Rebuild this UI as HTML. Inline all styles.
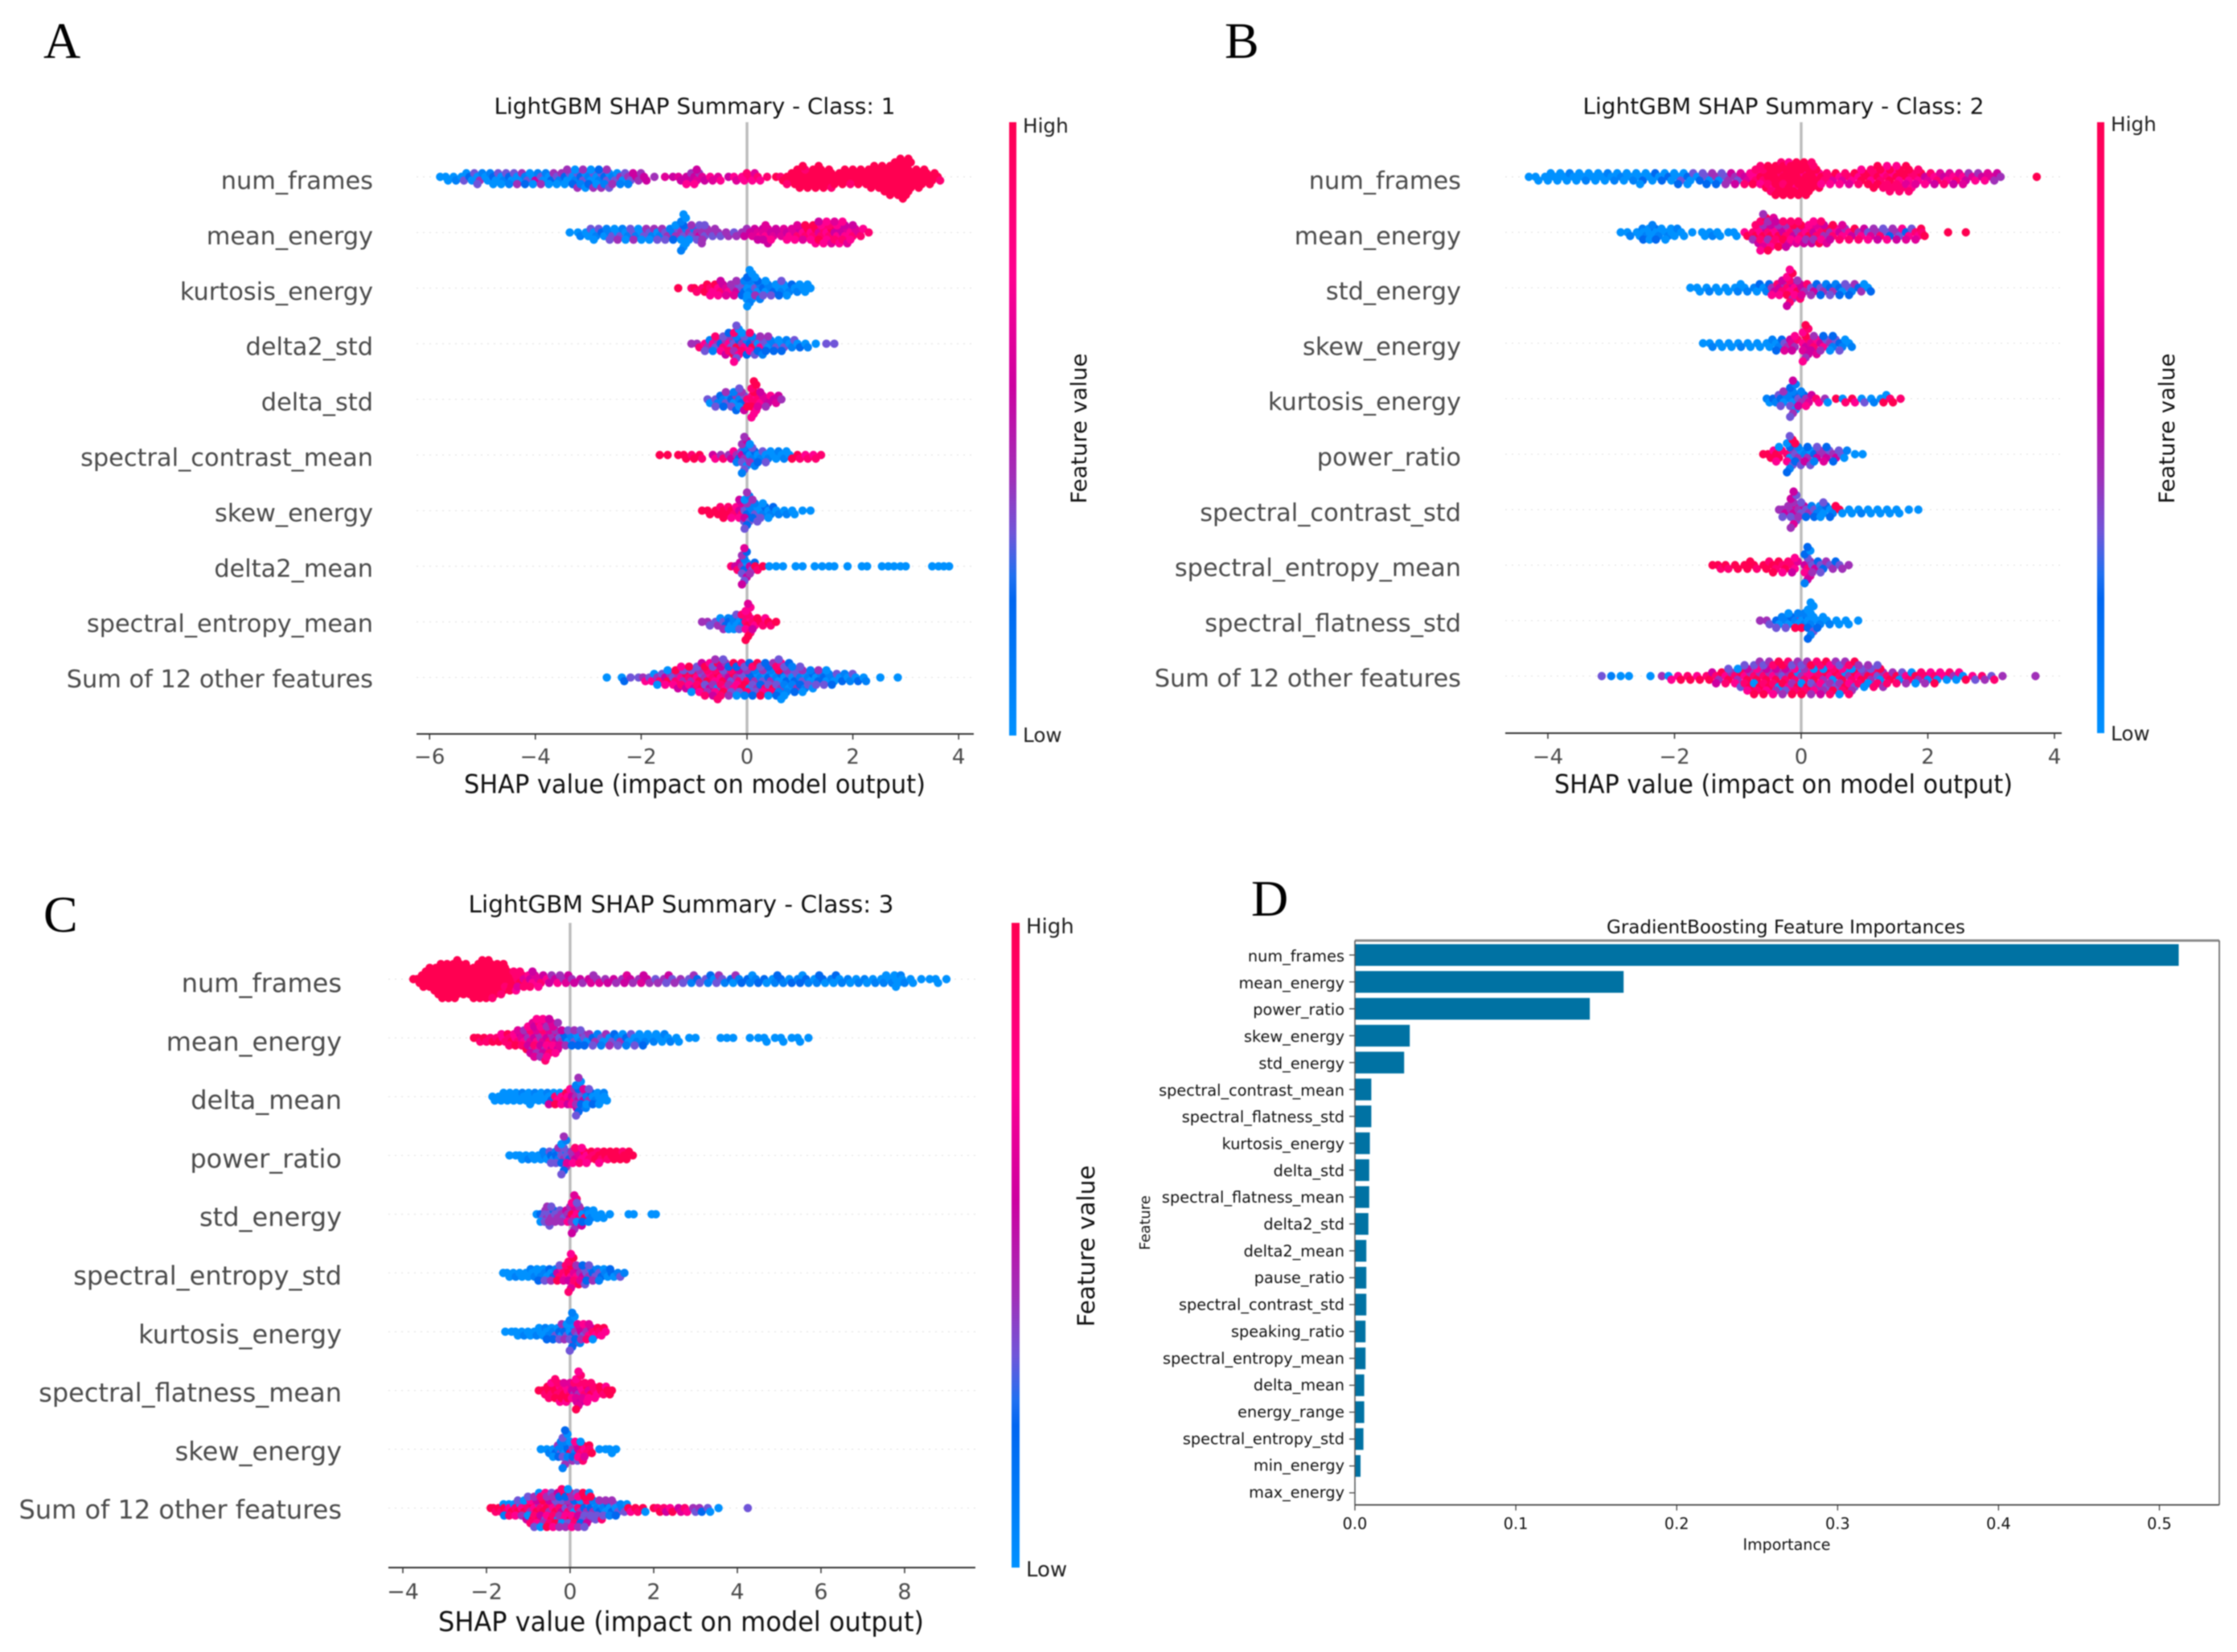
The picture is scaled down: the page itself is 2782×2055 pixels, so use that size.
<!DOCTYPE html>
<html lang="en">
<head>
<meta charset="utf-8">
<title>SHAP summaries and feature importances</title>
<style>
html,body{margin:0;padding:0;background:#fff;width:2782px;height:2055px;overflow:hidden}
#figure{display:block;filter:blur(0.8px)}
text{font-family:"DejaVu Sans","Liberation Sans",sans-serif}
.panel-letter{font-family:"Liberation Serif",serif;font-size:64px;fill:#000}
</style>
</head>
<body>
<svg id="figure" xmlns="http://www.w3.org/2000/svg" width="2782" height="2055" viewBox="0 0 2782 2055">
<defs>
<linearGradient id="shapGradient" x1="0" y1="0" x2="0" y2="1">
<stop offset="0" stop-color="#ff0051"/><stop offset="0.25" stop-color="#ff0090"/><stop offset="0.43" stop-color="#cc00a0"/><stop offset="0.58" stop-color="#a030b8"/><stop offset="0.67" stop-color="#7055d8"/><stop offset="0.74" stop-color="#2070f0"/><stop offset="0.78" stop-color="#0066f0"/><stop offset="1" stop-color="#0091ff"/>
</linearGradient>
</defs>
<rect width="2782" height="2055" fill="#fff"/>
<text class="panel-letter" x="54" y="72">A</text>
<text class="panel-letter" x="1523" y="72">B</text>
<text class="panel-letter" x="54" y="1159">C</text>
<text class="panel-letter" x="1556" y="1139">D</text>
<g id="panelA"></g>
<g id="panelB"></g>
<g id="panelC"></g>
<g id="panelD"></g>
</svg>
<script>
// Feature values are one digit per dot: 0 = low ... 9 = high.
const dotPalette = ["#0091ff","#0080f8","#0068f0","#7055d8","#a030b8","#cc00a0","#e00098","#ff0090","#ff0070","#ff0051"];

// ---------- Panel A ----------
const panelA_features = ["num_frames","mean_energy","kurtosis_energy","delta2_std","delta_std","spectral_contrast_mean","skew_energy","delta2_mean","spectral_entropy_mean","Sum of 12 other features"];
const panelA_ticks = [-6,-4,-2,0,2,4];
const a_num_frames_x = [-5.8,-5.65,-5.5,-5.35,-5.2,-5.05,-4.9,-4.75,-4.6,-4.45,-4.3,-4.15,-4,-3.85,-3.7,-3.55,-3.4,-3.25,-3.1,-2.95,-2.8,-2.65,-2.5,-2.35,-2.2,-2.05,-1.9,-1.75,-1.55,-1.4,-1.25,-1.1,-0.95,-0.8,-0.65,-0.5,-0.35,-0.2,-0.05,0.1,0.25,0.38,0.55,0.68,0.8,0.95,1.1,1.25,1.4,1.55,1.7,1.85,2,2.15,2.3,2.45,2.6,2.75,2.9,3.05,3.2,3.35,3.5,3.65];
const a_num_frames_f = ["0","00","01","030","203","0413","001","2030","0130","2031","0044","1302","0510","3014","0240","3140","20304","013204","230140","103204","013024","230143","1304","4031","4351","544","55","4","6","5","65","5547","56475","65","76","67","5","76","778","876","87","8","9","89","9998","999999","9999899","999999","9999999","999998","9999","99999","99989","99999","999999","9999999","99999999","9999999999","999999999999","99999999999","999999","99999","9999","98"];
const a_mean_energy_x = [-3.35,-3.15,-3,-2.85,-2.7,-2.55,-2.4,-2.25,-2.1,-1.95,-1.8,-1.65,-1.5,-1.35,-1.2,-1.05,-0.9,-0.8,-0.65,-0.5,-0.35,-0.2,-0.05,0.1,0.25,0.35,0.5,0.65,0.8,0.95,1.1,1.25,1.4,1.55,1.7,1.85,2,2.15,2.3];
const a_mean_energy_f = ["0","01","003","0130","201","1303","0314","0130","3104","0340","3140","0143","3413","14320","43102010010","43104","454334","43443","434","43","44","34","454","565","6755","676565","5657","566","5767","68576","78969","789797","6889775","7897867","5758776","5768567","78675","687","8"];
const a_kurtosis_energy_x = [-1.3,-1.05,-0.95,-0.8,-0.65,-0.5,-0.35,-0.2,-0.05,0.05,0.2,0.35,0.5,0.65,0.8,0.95,1.1,1.2];
const a_kurtosis_energy_f = ["9","8","98","899","8797","78575","6746","45364","324210","01001021000","3014210","20130","1203","01023","0120","010","000","0"];
const a_delta2_std_x = [-1.05,-0.9,-0.75,-0.6,-0.45,-0.3,-0.2,-0.05,0.1,0.25,0.4,0.55,0.7,0.85,1,1.15,1.3,1.5,1.65];
const a_delta2_std_f = ["4","48","7413","73418","284735","7318492","39241783073","4718320","2947138","073241","30124","1302","0312","013","02","01","0","3","3"];
const a_delta_std_x = [-0.7,-0.55,-0.4,-0.25,-0.1,0.05,0.13,0.25,0.4,0.55,0.65];
const a_delta_std_f = ["30","3123","13024","204312","1230453","8779","88799787979","87665","6574","565","4"];
const a_contrast_mean_x = [-1.65,-1.5,-1.3,-1.15,-1,-0.85,-0.6,-0.45,-0.3,-0.15,-0.05,0.1,0.25,0.4,0.55,0.7,0.85,1,1.15,1.3,1.4];
const a_contrast_mean_f = ["9","9","9","99","89","98","57","48","457","4231","54231043514","0124310","0132","0103","001","010","09","98","78","78","8"];
const a_skew_energy_x = [-0.85,-0.7,-0.55,-0.4,-0.25,-0.1,0,0.15,0.3,0.45,0.6,0.75,0.9,1.05,1.2];
const a_skew_energy_f = ["9","99","998","9989","9877","5847635","32154302134","1302134","01230","0120","01","01","00","0","0"];
const a_delta2_mean_x = [-0.3,-0.18,-0.05,0.1,0.2,0.3,0.42,0.55,0.68,0.92,1.05,1.28,1.42,1.55,1.65,1.9,2.17,2.27,2.55,2.67,2.78,2.9,3,3.5,3.62,3.72,3.82];
const a_delta2_mean_f = ["8","585","42031543256","5324","98","9","0","0","0","0","0","0","0","0","0","0","0","0","0","0","0","0","0","0","0","0","0"];
const a_entropy_mean_x = [-0.85,-0.7,-0.55,-0.4,-0.3,-0.2,-0.1,0.02,0.15,0.3,0.45,0.55];
const a_entropy_mean_f = ["4","43","340","3214","2010","10203","01238","89778879796","8795","987","98","9"];
const a_sum_other_x = [-2.65,-2.32,-2.2,-2.05,-1.92,-1.8,-1.65,-1.5,-1.35,-1.2,-1.05,-0.9,-0.75,-0.6,-0.45,-0.3,-0.15,0,0.15,0.3,0.45,0.6,0.75,0.9,1.05,1.2,1.35,1.5,1.65,1.8,1.95,2.1,2.25,2.52,2.85];
const a_sum_other_f = ["0","02","3","3","47","370","4830","59470","384795","7498357","84973590","793849375","4973859478","879480379548","79483759483","5394872394","4837592380","3829403821","2403148392","1302483729","2403192840","102394817230","0231403120","02313412","13024130","102310","02134","20130","1032","021","013","02","01","0","0"];

// ---------- Panel B ----------
const panelB_features = ["num_frames","mean_energy","std_energy","skew_energy","kurtosis_energy","power_ratio","spectral_contrast_std","spectral_entropy_mean","spectral_flatness_std","Sum of 12 other features"];
const panelB_ticks = [-4,-2,0,2,4];
const b_num_frames_x = [-4.3,-4.15,-4,-3.85,-3.7,-3.55,-3.4,-3.25,-3.1,-2.95,-2.8,-2.65,-2.5,-2.35,-2.2,-2.05,-1.9,-1.75,-1.6,-1.45,-1.3,-1.15,-1,-0.85,-0.72,-0.6,-0.48,-0.36,-0.24,-0.12,0,0.12,0.24,0.36,0.5,0.65,0.8,0.95,1.1,1.25,1.4,1.55,1.7,1.85,2,2.15,2.3,2.45,2.6,2.75,2.9,3.05,3.15,3.72];
const b_num_frames_f = ["0","00","000","000","001","000","010","000","001","010","100","010","0200","002","020","200","0302","2030","023","3042","4032","3454","4365","5678","78798","9897898","99989798","9989999989","9998999979","9999979999","9979999999","9999999989","9979998","9887","8697","7687","8796","79987","978989","9879989","89789878","97989878","97869798","87968","5687","7865","5768","7865","7546","674","576","645","4","9"];
const b_mean_energy_x = [-2.85,-2.7,-2.55,-2.45,-2.35,-2.25,-2.1,-2,-1.85,-1.72,-1.52,-1.4,-1.28,-1.15,-1.02,-0.85,-0.72,-0.6,-0.48,-0.36,-0.24,-0.12,0,0.12,0.24,0.36,0.5,0.65,0.8,0.95,1.1,1.25,1.4,1.55,1.7,1.85,1.95,2.32,2.6];
const b_mean_energy_f = ["0","01","001","0102","00201","0102","0100","001","00","0","00","01","00","0","00","79","897485","79584786974","8974584769","79584759","58794685","8547968","4867958","798475","5874697","8497568","48759","57486","7598","4758","3647","4835","3247","4375","2736","8796","89","9","9"];
const b_std_energy_x = [-1.75,-1.6,-1.45,-1.3,-1.15,-1,-0.85,-0.7,-0.55,-0.42,-0.3,-0.18,-0.06,0.05,0.2,0.35,0.5,0.65,0.8,0.95,1.1];
const b_std_energy_f = ["0","00","01","00","00","010","01","102","012","4587","58475","87598478957","795748","5486","3524","3412","2413","2032","3142","240","02"];
const b_skew_energy_x = [-1.55,-1.4,-1.25,-1.1,-0.95,-0.8,-0.65,-0.5,-0.35,-0.22,-0.1,0.07,0.2,0.35,0.5,0.65,0.8];
const b_skew_energy_f = ["0","01","00","00","01","00","00","001","0122","3456","64857","75869574879","687546","57342","41302","2103","01"];
const b_kurtosis_energy_x = [-0.5,-0.4,-0.28,-0.13,0,0.12,0.28,0.42,0.55,0.7,0.85,1,1.15,1.3,1.45,1.57];
const b_kurtosis_energy_f = ["10","213","20134","10231024135","34251","4657","87","40","9","08","97","03","01","090","89","8"];
const b_power_ratio_x = [-0.6,-0.48,-0.35,-0.18,-0.05,0.1,0.25,0.4,0.55,0.68,0.85,0.97];
const b_power_ratio_f = ["9","997","99870","80472301923","3402139","140523","25413","45362","4532","301","0","0"];
const b_contrast_std_x = [-0.35,-0.25,-0.12,0,0.12,0.25,0.35,0.5,0.65,0.8,0.95,1.1,1.25,1.4,1.55,1.7,1.85];
const b_contrast_std_f = ["4","4543","45634356345","43543","3412","3102","10203","0192","90","00","01","00","00","00","00","0","0"];
const b_entropy_mean_x = [-1.4,-1.27,-1.15,-1,-0.85,-0.7,-0.55,-0.4,-0.25,-0.1,0.1,0.22,0.35,0.5,0.65,0.75];
const b_entropy_mean_f = ["9","98","98","99","999","98","998","9899","8987","87657","58473625012","3524","3243","342","34","4"];
const b_flatness_std_x = [-0.65,-0.5,-0.35,-0.2,-0.05,0.05,0.15,0.3,0.45,0.6,0.75,0.9];
const b_flatness_std_f = ["4","43","2013","10230","10491","01291","01020301020","0102","01","00","00","0"];
const b_sum_other_x = [-3.15,-3,-2.85,-2.72,-2.38,-2.2,-2.05,-1.9,-1.75,-1.6,-1.45,-1.3,-1.15,-1,-0.85,-0.7,-0.55,-0.4,-0.25,-0.1,0.05,0.2,0.35,0.5,0.65,0.8,0.95,1.1,1.25,1.4,1.55,1.7,1.85,2,2.15,2.3,2.45,2.6,2.75,2.9,3.05,3.18,3.7];
const b_sum_other_f = ["3","1","0","0","0","4","07","79","89","79","895","8495","79483","849703","79485937","8940793849","8948593749","7948508497","3849579384","9804793849","4870493849","7983049784","8497038495","7094837948","8904793840","4897038498","7948304","9480384","3048943","8948","9038","7804","9480","8074","8079","708","407","09","73","84","38","4","4"];

// ---------- Panel C ----------
const panelC_features = ["num_frames","mean_energy","delta_mean","power_ratio","std_energy","spectral_entropy_std","kurtosis_energy","spectral_flatness_mean","skew_energy","Sum of 12 other features"];
const panelC_ticks = [-4,-2,0,2,4,6,8];
const c_num_frames_x = [-3.75,-3.6,-3.45,-3.3,-3.15,-3,-2.85,-2.7,-2.55,-2.4,-2.25,-2.1,-1.95,-1.8,-1.65,-1.5,-1.35,-1.2,-1.05,-0.9,-0.7,-0.5,-0.3,-0.1,0.1,0.3,0.5,0.7,0.9,1.1,1.3,1.5,1.7,1.9,2.1,2.3,2.5,2.7,2.9,3.1,3.3,3.5,3.7,3.9,4.1,4.3,4.5,4.7,4.9,5.1,5.3,5.5,5.7,5.9,6.1,6.3,6.5,6.7,6.9,7.1,7.3,7.5,7.7,7.85,8,8.2,8.4,8.6,8.8,9];
const c_num_frames_f = ["9","999","99999","9999999","999999999","9999999999","9999999999","99999999999","999999999","99999999","9999999999","99999999999","99999999999","9999999998","999999989","9998999","998987","89868","6878","57685","6857","754","574","465","45","54","564","46","45","54","456","54","465","54","34","435","34","43","314","23","312","034","31","204","12","210","12","20","012","21","02","120","21","012","20","102","01","10","01","10","01","010","010","0010","01","00","0","0","00","0"];
const c_mean_energy_x = [-2.3,-2.15,-2,-1.85,-1.7,-1.55,-1.4,-1.25,-1.1,-0.95,-0.8,-0.65,-0.5,-0.35,-0.2,-0.05,0.1,0.25,0.4,0.6,0.8,1,1.2,1.4,1.6,1.8,2,2.2,2.4,2.6,2.85,3,3.6,3.75,3.9,4.3,4.5,4.7,4.9,5.1,5.3,5.5,5.7];
const c_mean_energy_f = ["9","98","98","89","897","789","8978","78596","675849","467584756","57486754867","467584756478","58476548675","456745674","34265","20143","13024","01423","3042","2413","3041","0324","1403","2031","0103","0102","010","001","01","00","0","0","0","0","0","0","0","00","0","00","0","00","0"];
const c_delta_mean_x = [-1.8,-1.65,-1.5,-1.35,-1.2,-1.05,-0.9,-0.75,-0.6,-0.45,-0.3,-0.15,0,0.1,0.2,0.32,0.45,0.6,0.75,0.88];
const c_delta_mean_f = ["00","000","000","000","001","000","0010","000","001","0205","8709","7897","78657","576745","45342312034","354261","14203","0102","0010","00"];
const c_power_ratio_x = [-1.45,-1.3,-1.15,-1,-0.85,-0.7,-0.55,-0.4,-0.28,-0.15,-0.02,0.12,0.28,0.45,0.6,0.75,0.9,1.05,1.2,1.35,1.5];
const c_power_ratio_f = ["0","0","00","01","00","001","103","2013","21034","34123402134","3246","45678","67987","7897","898","9897","989","999","998","999","9"];
const c_std_energy_x = [-0.8,-0.65,-0.55,-0.45,-0.3,-0.15,0,0.1,0.22,0.35,0.5,0.65,0.8,0.95,1.4,1.52,1.95,2.05];
const c_std_energy_f = ["0","2340","343343","34243","3434","4354","45374","97846574856","7890453","0912","0101","00","00","0","0","0","0","0"];
const c_entropy_std_x = [-1.6,-1.45,-1.3,-1.15,-1,-0.85,-0.7,-0.55,-0.4,-0.25,-0.1,0.02,0.15,0.3,0.45,0.6,0.75,0.9,1.05,1.2,1.3];
const c_entropy_std_f = ["0","00","01","00","001","010","0102","1023","0214","58793","87968","97859786987","675849","453623","34123","2314","3201","102","20","13","1"];
const c_kurtosis_energy_x = [-1.55,-1.4,-1.25,-1.1,-0.95,-0.8,-0.65,-0.5,-0.35,-0.2,-0.08,0.05,0.18,0.32,0.45,0.6,0.75,0.85];
const c_kurtosis_energy_f = ["0","0","00","01","00","010","001","0102","1302","20134","23140","02130412031","435261","53647","47586","8790","879","7"];
const c_flatness_mean_x = [-0.75,-0.6,-0.45,-0.3,-0.15,0,0.1,0.2,0.35,0.5,0.65,0.8,0.95,1];
const c_flatness_mean_f = ["9","989","98987","9879878","897967","78596","546785","54768576897","789687","69878","8797","987","99","9"];
const c_skew_energy_x = [-0.7,-0.5,-0.35,-0.22,-0.12,0,0.12,0.25,0.4,0.52,0.7,0.85,1,1.1];
const c_skew_energy_f = ["0","01","0240","13021","10231034012","293104","415273","589708","7896","89","0","0","00","0"];
const c_sum_other_x = [-1.9,-1.78,-1.65,-1.52,-1.4,-1.25,-1.1,-0.95,-0.8,-0.65,-0.5,-0.35,-0.2,-0.05,0.1,0.25,0.4,0.55,0.7,0.85,1,1.15,1.3,1.45,1.62,1.8,2,2.15,2.3,2.45,2.65,2.8,3,3.15,3.35,3.55,4.25];
const c_sum_other_f = ["9","98","980","9801","7908","89073","798405","84907938","7948594703","8975938470","9487594839","7948304957","85943720948","38574923840","4037294837","8495037294","2403849503","2403139","120348","10234","02314","0312","130","97","98","90","9","89","85","79","56","87","43","42","30","0","3"];

// ---------- Panel D ----------
const importanceFeatures = ["num_frames","mean_energy","power_ratio","skew_energy","std_energy","spectral_contrast_mean","spectral_flatness_std","kurtosis_energy","delta_std","spectral_flatness_mean","delta2_std","delta2_mean","pause_ratio","spectral_contrast_std","speaking_ratio","spectral_entropy_mean","delta_mean","energy_range","spectral_entropy_std","min_energy","max_energy"];
const importanceValues = [0.512,0.167,0.146,0.0341,0.0306,0.0102,0.0102,0.0093,0.0089,0.0089,0.0084,0.0071,0.0071,0.0071,0.0066,0.0066,0.0058,0.0058,0.0053,0.0035,0.0003];
const importanceTicks = [0,0.1,0.2,0.3,0.4,0.5];

const panelA_rows = [[a_num_frames_x,a_num_frames_f],[a_mean_energy_x,a_mean_energy_f],[a_kurtosis_energy_x,a_kurtosis_energy_f],[a_delta2_std_x,a_delta2_std_f],[a_delta_std_x,a_delta_std_f],[a_contrast_mean_x,a_contrast_mean_f],[a_skew_energy_x,a_skew_energy_f],[a_delta2_mean_x,a_delta2_mean_f],[a_entropy_mean_x,a_entropy_mean_f],[a_sum_other_x,a_sum_other_f]];
const panelB_rows = [[b_num_frames_x,b_num_frames_f],[b_mean_energy_x,b_mean_energy_f],[b_std_energy_x,b_std_energy_f],[b_skew_energy_x,b_skew_energy_f],[b_kurtosis_energy_x,b_kurtosis_energy_f],[b_power_ratio_x,b_power_ratio_f],[b_contrast_std_x,b_contrast_std_f],[b_entropy_mean_x,b_entropy_mean_f],[b_flatness_std_x,b_flatness_std_f],[b_sum_other_x,b_sum_other_f]];
const panelC_rows = [[c_num_frames_x,c_num_frames_f],[c_mean_energy_x,c_mean_energy_f],[c_delta_mean_x,c_delta_mean_f],[c_power_ratio_x,c_power_ratio_f],[c_std_energy_x,c_std_energy_f],[c_entropy_std_x,c_entropy_std_f],[c_kurtosis_energy_x,c_kurtosis_energy_f],[c_flatness_mean_x,c_flatness_mean_f],[c_skew_energy_x,c_skew_energy_f],[c_sum_other_x,c_sum_other_f]];

const NS = "http://www.w3.org/2000/svg";
function makeEl(parent, tag, name, attrs){
  const el = document.createElementNS(NS, tag);
  
  
  for (const k in attrs) el.setAttribute(k, attrs[k]);
  parent.appendChild(el);
  return el;
}
function addText(parent, str, x, y, size, anchor, fill, name, opts){
  const a = {x:x, y:y, 'font-size':size, 'text-anchor':anchor, fill:fill};
  if (opts && opts.length){ a.textLength = opts.length; a.lengthAdjust = 'spacingAndGlyphs'; }
  if (opts && opts.rotate) a.transform = 'rotate(-90 '+x+' '+y+')';
  const el = makeEl(parent, 'text', name, a);
  el.textContent = str;
  return el;
}
function fmtTick(v){ return String(v).replace('-', '\u2212'); }

function drawSwarmPanel(g, features, rows, ticks, L){
  const xScale = v => L.x0 + v * L.unit;
  const yScale = i => L.rowTop + i * L.rowStep;
  const labelY = i => L.rowTop + L.labelDy + i * L.labelStep;
  // row guide lines and labels
  features.forEach((label, i) => {
    makeEl(g, 'line', 'row-guide-' + label.replace(/ /g,'-'), {x1:L.axisL, x2:L.axisR, y1:yScale(i), y2:yScale(i), stroke:'#dddddd', 'stroke-width':1, 'stroke-dasharray':'2 6'});
    addText(g, label, L.labelR, labelY(i), L.labelSize, 'end', '#4a4a4a', 'feature-label-' + label.replace(/ /g,'-'));
  });
  makeEl(g, 'line', 'zero-line', {x1:xScale(0), x2:xScale(0), y1:L.top, y2:L.axisY, stroke:'#bdbdbd', 'stroke-width':3.5});
  // swarm dots: each bin's dots stack out from the row centre with a small sideways stagger
  rows.forEach((row, i) => {
    const xs = row[0], fs = row[1];
    const rowG = makeEl(g, 'g', 'swarm-row-' + features[i].replace(/ /g,'-'), {});
    xs.forEach((x, b) => {
      const s = fs[b] || '0';
      for (let j = 0; j < s.length; j++){
        const off = j === 0 ? 0 : (j % 2 ? 1 : -1) * Math.ceil(j / 2) * L.stackStep;
        const side = s.length > 1 ? (j % 3 - 1) * L.stagger : 0;
        const dot = document.createElementNS(NS, 'circle');
        
        
        dot.setAttribute('cx', xScale(x) + side);
        dot.setAttribute('cy', yScale(i) + off);
        dot.setAttribute('r', 5.2);
        dot.setAttribute('fill', dotPalette[+s[j]]);
        rowG.appendChild(dot);
      }
    });
  });
  // x axis
  makeEl(g, 'line', 'x-axis-line', {x1:L.axisL, x2:L.axisR, y1:L.axisY, y2:L.axisY, stroke:'#333', 'stroke-width':2});
  ticks.forEach(t => {
    makeEl(g, 'line', 'x-tick', {x1:xScale(t), x2:xScale(t), y1:L.axisY, y2:L.axisY + 7, stroke:'#333', 'stroke-width':1.5});
    addText(g, fmtTick(t), xScale(t), L.tickY, L.tickSize, 'middle', '#4a4a4a', 'x-tick-label');
  });
  addText(g, 'SHAP value (impact on model output)', L.xlabelX, L.xlabelY, L.xlabelSize, 'middle', '#111', 'x-axis-title', {length:L.xlabelLen});
  addText(g, L.title, L.xlabelX, L.titleY, L.titleSize, 'middle', '#111', 'chart-title', {length:L.titleLen});
  // colour bar
  makeEl(g, 'rect', 'colorbar', {x:L.cbX, y:L.top, width:L.cbW, height:L.cbBottom - L.top, fill:'url(#shapGradient)'});
  addText(g, 'High', L.cbLabelX, L.highY, L.cbSize, 'start', '#222', 'colorbar-high-label');
  addText(g, 'Low', L.cbLabelX, L.lowY, L.cbSize, 'start', '#222', 'colorbar-low-label');
  addText(g, 'Feature value', L.fvX, L.fvY, L.fvSize, 'middle', '#111', 'colorbar-title', {rotate:true, length:L.fvLen});
}

drawSwarmPanel(document.getElementById('panelA'), panelA_features, panelA_rows, panelA_ticks, {
  x0:929, unit:65.8, rowTop:220, rowStep:69.2, stackStep:4.5, stagger:3, top:152, axisY:913, axisL:518, axisR:1211,
  labelR:464, labelDy:15, labelStep:68.9, labelSize:30.4, tickY:950, tickSize:26, xlabelX:864, xlabelY:986.5, xlabelSize:32, xlabelLen:574,
  title:'LightGBM SHAP Summary - Class: 1', titleY:141.5, titleSize:27.5, titleLen:499,
  cbX:1255, cbW:9, cbBottom:915, cbLabelX:1272, highY:165, lowY:923, cbSize:24.7, fvX:1351, fvY:533, fvSize:27, fvLen:187
});
drawSwarmPanel(document.getElementById('panelB'), panelB_features, panelB_rows, panelB_ticks, {
  x0:2240, unit:78.75, rowTop:220, rowStep:69, stackStep:4.5, stagger:3.5, top:152, axisY:912, axisL:1872, axisR:2564,
  labelR:1817, labelDy:15, labelStep:68.8, labelSize:30.4, tickY:950, tickSize:26, xlabelX:2218, xlabelY:986.5, xlabelSize:32, xlabelLen:570,
  title:'LightGBM SHAP Summary - Class: 2', titleY:141.5, titleSize:27.5, titleLen:499,
  cbX:2608, cbW:9, cbBottom:912, cbLabelX:2625, highY:163, lowY:921, cbSize:24.7, fvX:2704, fvY:533, fvSize:27, fvLen:187
});
drawSwarmPanel(document.getElementById('panelC'), panelC_features, panelC_rows, panelC_ticks, {
  x0:709, unit:52, rowTop:1218, rowStep:73.1, stackStep:4.7, stagger:3, top:1148, axisY:1950, axisL:483, axisR:1213,
  labelR:425, labelDy:16, labelStep:72.8, labelSize:32, tickY:1989, tickSize:27, xlabelX:847, xlabelY:2029, xlabelSize:33.5, xlabelLen:604,
  title:'LightGBM SHAP Summary - Class: 3', titleY:1135, titleSize:29, titleLen:529,
  cbX:1258, cbW:10, cbBottom:1950, cbLabelX:1276, highY:1161, lowY:1961, cbSize:26, fvX:1361, fvY:1550, fvSize:29, fvLen:201
});

(function drawImportance(){
  const g = document.getElementById('panelD');
  const left = 1685, right = 2760, top = 1170, bottom = 1872;
  const xScale = v => left + v * 2001;
  const yScale = i => 1188 + i * 33.45;
  const labelY = i => 1196 + i * 33.35;
  importanceFeatures.forEach((name, i) => {
    makeEl(g, 'rect', 'bar-' + name, {x:left, y:yScale(i) - 13.5, width:xScale(importanceValues[i]) - left, height:27, fill:'#0072a3'});
    makeEl(g, 'line', 'y-tick', {x1:left - 7, x2:left, y1:yScale(i), y2:yScale(i), stroke:'#333', 'stroke-width':1.2});
    addText(g, name, 1672, labelY(i), 19.3, 'end', '#111', 'y-tick-label-' + name);
  });
  makeEl(g, 'line', 'axes-top-spine', {x1:left, x2:right, y1:top, y2:top, stroke:'#8a8a8a', 'stroke-width':3});
  makeEl(g, 'line', 'axes-right-spine', {x1:right, x2:right, y1:top, y2:bottom, stroke:'#555', 'stroke-width':1.5});
  makeEl(g, 'line', 'axes-left-spine', {x1:left, x2:left, y1:top, y2:bottom, stroke:'#555', 'stroke-width':1.5});
  makeEl(g, 'line', 'axes-bottom-spine', {x1:left, x2:right, y1:bottom, y2:bottom, stroke:'#444', 'stroke-width':1.8});
  importanceTicks.forEach(t => {
    makeEl(g, 'line', 'x-tick', {x1:xScale(t), x2:xScale(t), y1:bottom, y2:bottom + 7, stroke:'#333', 'stroke-width':1.2});
    addText(g, t.toFixed(1), xScale(t), 1902, 19.3, 'middle', '#111', 'x-tick-label');
  });
  addText(g, 'GradientBoosting Feature Importances', 2221, 1161, 23.5, 'middle', '#111', 'chart-title', {length:446});
  addText(g, 'Importance', 2222, 1928, 19.3, 'middle', '#111', 'x-axis-title', {length:109});
  addText(g, 'Feature', 1430, 1521, 18, 'middle', '#111', 'y-axis-title', {rotate:true, length:68});
})();
</script>
</body>
</html>
